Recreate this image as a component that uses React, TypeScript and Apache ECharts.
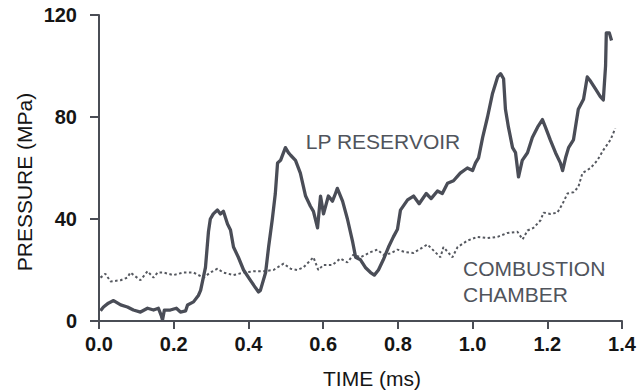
import React, { useEffect, useRef } from "react";
import * as echarts from "echarts";

// LP reservoir pressure trace (time in ms, pressure in MPa)
const lpTime = [
  0.004, 0.012, 0.025, 0.039, 0.058, 0.076, 0.092, 0.111, 0.13, 0.146, 0.159, 0.167, 0.17, 0.175,
  0.191, 0.207, 0.218, 0.232, 0.237, 0.253, 0.266, 0.272, 0.285, 0.293, 0.298, 0.306, 0.317, 0.325,
  0.333, 0.344, 0.352, 0.36, 0.373, 0.387, 0.405, 0.419, 0.427, 0.432, 0.446, 0.454, 0.464, 0.472,
  0.478, 0.486, 0.499, 0.507, 0.513, 0.526, 0.539, 0.553, 0.566, 0.574, 0.585, 0.593, 0.601, 0.614,
  0.625, 0.633, 0.638, 0.652, 0.665, 0.679, 0.687, 0.7, 0.713, 0.727, 0.737, 0.748, 0.761, 0.775,
  0.788, 0.799, 0.807, 0.826, 0.842, 0.857, 0.876, 0.889, 0.906, 0.919, 0.933, 0.949, 0.967, 0.986,
  1.0, 1.008, 1.016, 1.027, 1.04, 1.053, 1.067, 1.075, 1.083, 1.088, 1.096, 1.107, 1.115, 1.123,
  1.133, 1.147, 1.16, 1.174, 1.187, 1.195, 1.208, 1.222, 1.235, 1.241, 1.249, 1.257, 1.27, 1.283,
  1.297, 1.307, 1.316, 1.329, 1.342, 1.35, 1.356, 1.358, 1.366, 1.372,
];
const lpPressure = [
  4, 5.5, 7, 8, 6.3, 5.5, 4.3, 3.5, 5, 4.3, 5, 2, 0.4, 4.3,
  4.3, 5, 3.5, 4, 6.3, 7.5, 10, 12, 21, 35, 40, 42, 43.5, 42,
  43, 38, 35.7, 29, 25, 20, 16, 13, 11.4, 12, 19, 29, 40, 50,
  62, 63, 68, 66, 65, 63, 58, 49, 45, 43, 36.5, 49, 42, 49,
  47, 50, 52, 47, 40, 31, 25, 24, 21, 19, 18, 20, 24, 29,
  33, 36, 43.5, 47.5, 49, 46, 50, 48, 51, 50, 54, 55, 58, 60,
  59, 62, 64, 72, 80, 89, 95.7, 97, 95, 83, 76, 68, 66, 56.5,
  63, 66, 72, 76, 79, 76, 71, 66, 62, 59, 64, 68, 71, 83,
  87, 95.7, 94, 91, 88, 86.7, 100, 113, 113, 110,
];

// Combustion chamber pressure trace
const ccTime = [
  0.004, 0.017, 0.031, 0.058, 0.076, 0.084, 0.111, 0.13, 0.146, 0.157, 0.173, 0.199, 0.226, 0.253,
  0.28, 0.298, 0.317, 0.333, 0.36, 0.387, 0.414, 0.44, 0.467, 0.494, 0.513, 0.531, 0.547, 0.574,
  0.587, 0.601, 0.625, 0.646, 0.665, 0.681, 0.7, 0.727, 0.745, 0.761, 0.78, 0.799, 0.82, 0.842,
  0.879, 0.914, 0.922, 0.946, 0.96, 0.986, 1.013, 1.04, 1.067, 1.093, 1.12, 1.134, 1.147, 1.163,
  1.182, 1.19, 1.208, 1.227, 1.241, 1.254, 1.27, 1.283, 1.294, 1.316, 1.334, 1.35, 1.369, 1.382,
];
const ccPressure = [
  17, 18.5, 15.5, 16, 17, 19, 16, 19.5, 17, 19, 19, 18, 19, 19,
  17, 19, 20.5, 19, 18, 19, 19.5, 19.5, 20, 22.5, 20.5, 20, 21, 25,
  20, 22, 22, 24.5, 23, 26, 25, 27, 28, 26, 26.5, 28, 27, 26.7,
  30, 25, 29, 25, 29, 31.5, 33, 32.5, 33, 34.5, 35, 32, 35.5, 36.5,
  39.5, 42.5, 42, 42.5, 46, 50, 50.5, 52.5, 58, 60, 63, 67, 71, 75.5,
];

const xTicks = { min: 0, max: 1.4, interval: 0.2 };
const yTicks = { min: 0, max: 120, interval: 40 };

const seriesNames = ["LP RESERVOIR", "COMBUSTION CHAMBER"];

export default function App() {
  const ref = useRef<HTMLDivElement>(null);

  useEffect(() => {
    if (!ref.current) return;
    const chart = echarts.init(ref.current, null, { renderer: "svg" });
    const lpData = lpTime.map((t, i) => [t, lpPressure[i]]);
    const ccData = ccTime.map((t, i) => [t, ccPressure[i]]);
    const axisColor = "#4a4d55";
    const labelFont = "'Liberation Sans', Arial, sans-serif";
    const annColor = "#50545c";

    chart.setOption({
      animation: false,
      backgroundColor: "#ffffff",
      grid: { left: 99, right: 21, top: 15, bottom: 70 },
      xAxis: {
        type: "value",
        min: xTicks.min,
        max: xTicks.max,
        interval: xTicks.interval,
        axisLine: { show: true, lineStyle: { color: axisColor, width: 2 } },
        axisTick: { show: true, length: 8, lineStyle: { color: axisColor, width: 2 } },
        splitLine: { show: false },
        axisLabel: {
          margin: 13,
          color: "#151515",
          fontSize: 20,
          fontWeight: "bold",
          fontFamily: labelFont,
          formatter: (v: number) => v.toFixed(1),
        },
      },
      yAxis: {
        type: "value",
        min: yTicks.min,
        max: yTicks.max,
        interval: yTicks.interval,
        axisLine: { show: true, lineStyle: { color: axisColor, width: 2 } },
        axisTick: { show: true, length: 9, lineStyle: { color: axisColor, width: 2 } },
        splitLine: { show: false },
        axisLabel: {
          margin: 22,
          color: "#151515",
          fontSize: 20,
          fontWeight: "bold",
          fontFamily: labelFont,
        },
      },
      series: [
        {
          name: seriesNames[0],
          type: "line",
          data: lpData,
          showSymbol: false,
          symbol: "none",
          lineStyle: { color: "#4a4d57", width: 3.3, join: "round" },
          z: 3,
        },
        {
          name: seriesNames[1],
          type: "line",
          data: ccData,
          showSymbol: false,
          symbol: "none",
          lineStyle: { color: "#55585f", width: 2, type: [2.5, 2.5] },
          z: 2,
        },
      ],
      graphic: [
        {
          type: "text",
          x: 24,
          y: 182,
          rotation: Math.PI / 2,
          style: {
            text: "PRESSURE (MPa)",
            fontSize: 21,
            fontFamily: labelFont,
            fill: "#151515",
            textAlign: "center",
            textVerticalAlign: "middle",
          },
        },
        {
          type: "text",
          x: 372,
          y: 378,
          style: {
            text: "TIME (ms)",
            fontSize: 21,
            fontFamily: labelFont,
            fill: "#151515",
            textAlign: "center",
            textVerticalAlign: "middle",
          },
        },
        {
          type: "text",
          x: 383,
          y: 141,
          style: {
            text: "LP RESERVOIR",
            fontSize: 21,
            fontFamily: labelFont,
            fill: annColor,
            textAlign: "center",
            textVerticalAlign: "middle",
          },
        },
        {
          type: "text",
          x: 463,
          y: 268,
          style: {
            text: "COMBUSTION",
            fontSize: 21,
            fontFamily: labelFont,
            fill: annColor,
            textAlign: "left",
            textVerticalAlign: "middle",
          },
        },
        {
          type: "text",
          x: 463,
          y: 294,
          style: {
            text: "CHAMBER",
            fontSize: 21,
            fontFamily: labelFont,
            fill: annColor,
            textAlign: "left",
            textVerticalAlign: "middle",
          },
        },
      ],
    });

    return () => {
      chart.dispose();
    };
  }, []);

  return (
    <div
      ref={ref}
      style={{ position: "fixed", left: 0, top: 0, width: 643, height: 391, background: "#fff" }}
    />
  );
}
